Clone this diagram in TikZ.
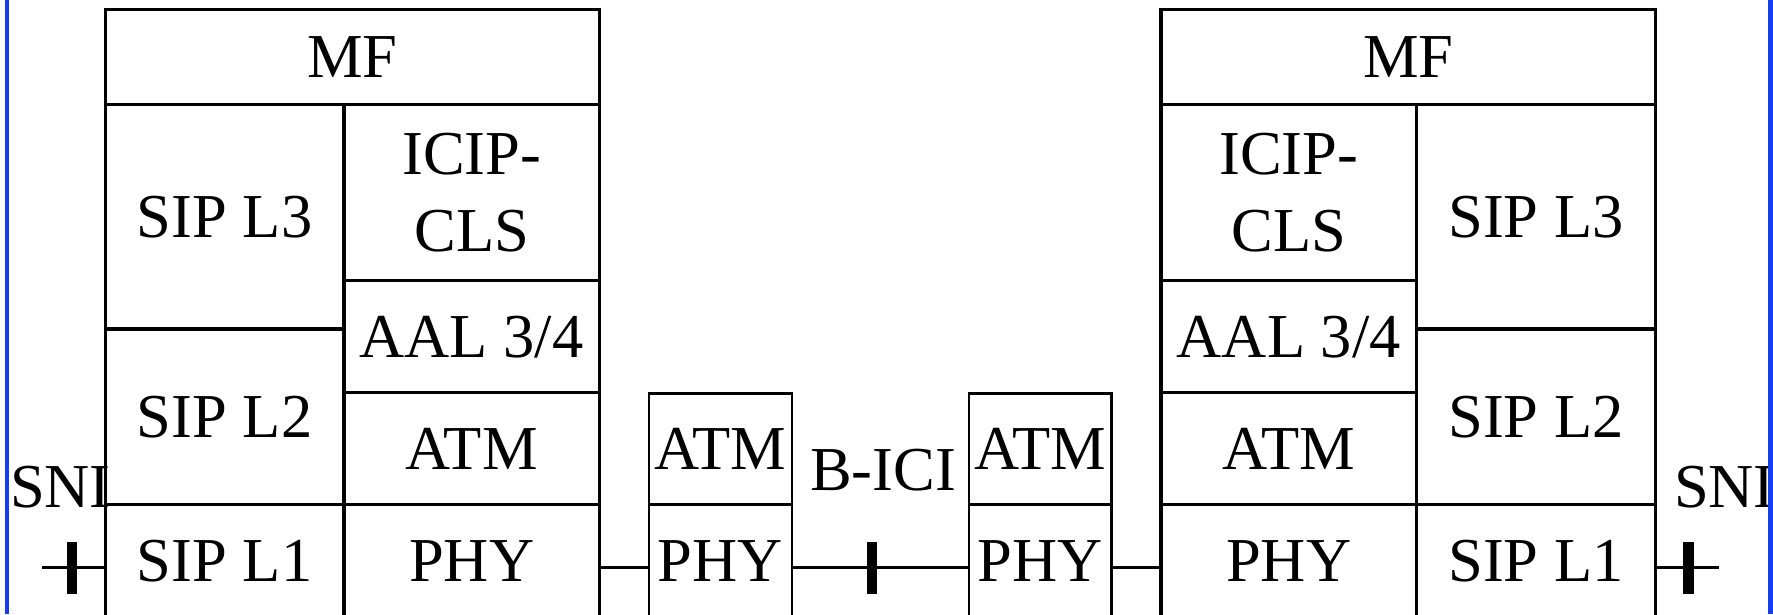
\documentclass[tikz,border=0pt]{standalone}
\usepackage{fontspec}
\setmainfont{Liberation Serif}
\newcommand\labfont{\fontsize{62.5}{76.6}\selectfont}
\definecolor{edgeblue}{RGB}{22,62,240}
\tikzset{
  stk/.style={draw, line width=3.2pt, inner sep=0pt, outer sep=0pt, anchor=north west,
              font=\labfont, text height=41pt, text depth=0pt},
  stkml/.style={draw, line width=3.2pt, inner sep=0pt, outer sep=0pt, anchor=north west,
              font=\labfont, align=center},
  sml/.style={draw, line width=2.4pt, inner sep=0pt, outer sep=0pt, anchor=north west,
              font=\labfont, text height=41pt, text depth=0pt},
  lbl/.style={inner sep=0pt, outer sep=0pt, font=\labfont},
  bar/.style={fill=black, inner sep=0pt, outer sep=0pt, minimum width=10.5pt, minimum height=52.6pt},
  conn/.style={line width=2.6pt},
  edge/.style={draw=edgeblue, line width=4.6pt},
}
\begin{document}
\begin{tikzpicture}[x=1pt, y=-1pt]
\useasboundingbox (0,0) rectangle (1773,614);
\clip (0,0) rectangle (1773,614);
% left stack
\node[stk, minimum width=494pt, minimum height=95.2pt] (mfL) at (105.3,9.3) {MF};
\node[stk, minimum width=238.7pt, minimum height=224.5pt] (l3L) at (105.3,104.5) {SIP L3};
\node[stkml, minimum width=255.3pt, minimum height=176pt] (icL) at (344,104.5) {ICIP-\\CLS};
\node[stk, minimum width=255.3pt, minimum height=112.2pt] (aalL) at (344,280.5) {AAL 3/4};
\node[stk, minimum width=238.7pt, minimum height=175.3pt] (l2L) at (105.3,329) {SIP L2};
\node[stk, minimum width=255.3pt, minimum height=111.6pt] (atmL) at (344,392.7) {ATM};
\node[stk, minimum width=238.7pt, minimum height=114pt] (l1L) at (105.3,504.3) {SIP L1};
\node[stk, minimum width=255.3pt, minimum height=114pt] (phyL) at (344,504.3) {PHY};
% right stack
\node[stk, minimum width=494.7pt, minimum height=95.2pt] (mfR) at (1161,9.3) {MF};
\node[stkml, minimum width=255.5pt, minimum height=176pt] (icR) at (1161,104.5) {ICIP-\\CLS};
\node[stk, minimum width=239.2pt, minimum height=224.5pt] (l3R) at (1416.5,104.5) {SIP L3};
\node[stk, minimum width=255.5pt, minimum height=112.2pt] (aalR) at (1161,280.5) {AAL 3/4};
\node[stk, minimum width=239.2pt, minimum height=175.3pt] (l2R) at (1416.5,329) {SIP L2};
\node[stk, minimum width=255.5pt, minimum height=111.6pt] (atmR) at (1161,392.7) {ATM};
\node[stk, minimum width=255.5pt, minimum height=114pt] (phyR) at (1161,504.3) {PHY};
\node[stk, minimum width=239.2pt, minimum height=114pt] (l1R) at (1416.5,504.3) {SIP L1};
% small relay boxes
\node[sml, minimum width=142.7pt, minimum height=111pt] (atmA) at (649,393.3) {ATM};
\node[sml, minimum width=142.7pt, minimum height=114pt] (phyA) at (649,504.3) {PHY};
\node[sml, minimum width=142.7pt, minimum height=111pt] (atmB) at (968.8,393.3) {ATM};
\node[sml, minimum width=142.7pt, minimum height=114pt] (phyB) at (968.8,504.3) {PHY};
% labels
\node[lbl, anchor=base west] (sniL) at (10,507) {SNI};
\node[lbl, anchor=base west] (sniR) at (1674,507) {SNI};
\node[lbl, anchor=base] (bici) at (883,490.7) {B-ICI};
% connection level and free ends
\coordinate (ln) at (0,567.3);
\coordinate (endL) at (42,567.3);
\coordinate (endR) at (1719,567.3);
% ticks
\node[bar] (tickL) at (72,568) {};
\node[bar] (tickB) at (872.2,568) {};
\node[bar] (tickR) at (1688.5,568) {};
% connectors
\draw[conn] (endL) -- (l1L.west |- ln);
\draw[conn] (phyL.east |- ln) -- (phyA.west |- ln);
\draw[conn] (phyA.east |- ln) -- (phyB.west |- ln);
\draw[conn] (phyB.east |- ln) -- (phyR.west |- ln);
\draw[conn] (l1R.east |- ln) -- (endR);
% blue page edges
\draw[edge] (6.8,0) -- (6.8,614);
\draw[edge] (1770.4,0) -- (1770.4,614);
\end{tikzpicture}
\end{document}
